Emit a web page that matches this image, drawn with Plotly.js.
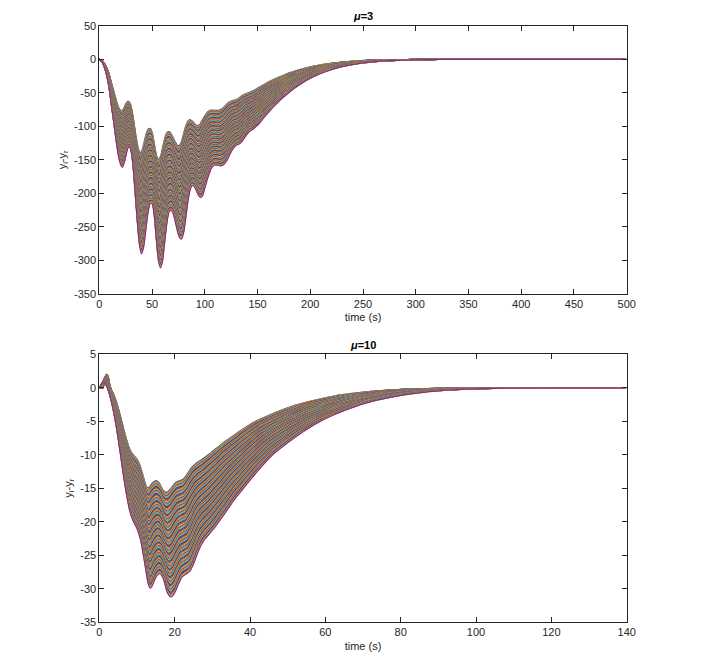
<!DOCTYPE html>
<html>
<head>
<meta charset="utf-8">
<script src="https://cdn.plot.ly/plotly-3.0.1.min.js"></script>
<style>html,body{margin:0;padding:0;background:#fff;}#chart{width:708px;height:658px;}</style>
</head>
<body>
<div id="chart"></div>
<script>
// ---- Data ----
// mu = 3 : the last (deepest) error curve y_i - y_r, time in s
const topTime = [0, 3, 6, 9, 12, 15, 18, 20, 22, 24, 26, 28, 30, 32, 34, 36, 38, 40, 42, 44, 46, 48, 50, 52, 54, 56, 58, 60, 62, 64, 66, 68, 70, 72, 74, 76, 78, 80, 82, 84, 86, 88, 90, 92, 94, 96, 98, 100, 103, 106, 109, 112, 115, 118, 121, 124, 127, 130, 133, 136, 139, 142, 145, 148, 152, 156, 160, 165, 170, 175, 181, 188, 197, 207, 219, 230, 238, 250, 262, 275, 290, 310, 335, 365, 400, 450, 500];
const topValue = [0, -5, -18, -40, -75, -110, -143, -156, -161, -152, -138, -130, -136, -160, -200, -242, -276, -290, -280, -255, -230, -216, -215, -232, -268, -300, -311, -300, -272, -245, -228, -225, -230, -242, -256, -266, -268, -258, -236, -212, -195, -188, -190, -196, -203, -206, -203, -192, -176, -163, -158, -158, -159, -157, -151, -141, -133, -128, -126, -121, -114, -108, -105, -101, -95, -87, -80, -71, -63, -56, -48, -40, -31, -23, -16, -11, -8.5, -5.5, -3.5, -2.2, -1.2, -0.5, -0.2, -0.05, 0, 0, 0];

// mu = 10 : the last (deepest) error curve
const botTime = [0, 0.5, 1, 1.5, 2, 2.5, 3, 3.5, 4, 4.5, 5, 5.5, 6, 6.5, 7, 7.5, 8, 8.5, 9, 10, 11, 12, 13, 13.5, 14, 15, 16, 17, 18, 19, 20, 21, 22, 23, 24, 25, 26, 27, 28, 30, 32, 34, 36, 38, 40, 43, 46, 50, 54, 58, 62, 66, 70, 75, 80, 85, 90, 95, 100, 110, 120, 130, 140];
const botValue = [0, 0.5, 0.8, 0.7, 0.2, -0.6, -1.6, -2.8, -4.2, -5.8, -7.6, -9.5, -11.5, -13.4, -15.2, -16.8, -18.2, -19.2, -19.9, -21.0, -22.8, -26.0, -29.3, -29.9, -29.6, -28.3, -27.7, -28.5, -30.5, -31.2, -30.6, -29.3, -28.2, -27.8, -27.4, -26.3, -24.8, -23.5, -22.6, -21.3, -19.8, -18.2, -16.6, -15.2, -13.8, -11.8, -10.0, -8.2, -6.6, -5.2, -4.1, -3.2, -2.4, -1.7, -1.15, -0.75, -0.45, -0.28, -0.17, -0.06, -0.02, 0, 0];

// family of followers: first follower relative to the last one
const seriesCount = 95;
const topFirst = {gain: 0.48, bumpGain: 1.0, stretch: 0.97, delay: 0};
const botFirst = {gain: 0.50, bumpGain: 2.5, stretch: 0.88, delay: 1.0};

const topXTicks = [0, 50, 100, 150, 200, 250, 300, 350, 400, 450, 500];
const topYTicks = [-350, -300, -250, -200, -150, -100, -50, 0, 50];
const botXTicks = [0, 20, 40, 60, 80, 100, 120, 140];
const botYTicks = [-35, -30, -25, -20, -15, -10, -5, 0, 5];

const colors = ['#0072BD', '#D95319', '#EDB120', '#7E2F8E', '#77AC30', '#4DBEEE', '#A2142F'];

// ---- Build traces ----
const traces = [];
function addFamily(time, value, first, xa, ya) {
  for (let k = 0; k < seriesCount; k++) {
    const w = k / (seriesCount - 1);
    const g = first.gain + (1 - first.gain) * w;
    const gb = first.bumpGain + (1 - first.bumpGain) * w;
    const s = first.stretch + (1 - first.stretch) * w;
    const d = first.delay * (1 - w);
    const x = [0], y = [0];
    for (let i = 0; i < time.length; i++) {
      x.push(d + time[i] * s);
      y.push(value[i] > 0 ? value[i] * gb : value[i] * g);
    }
    traces.push({
      type: 'scatter', mode: 'lines', x: x, y: y,
      xaxis: xa, yaxis: ya,
      line: {color: colors[k % colors.length], width: 1.25, shape: 'spline', smoothing: 0.6},
      showlegend: false, hoverinfo: 'skip'
    });
  }
}
addFamily(topTime, topValue, topFirst, 'x', 'y');
addFamily(botTime, botValue, botFirst, 'x2', 'y2');

const fam = 'Liberation Sans, Arial, sans-serif';
const axisFont = {family: fam, size: 11, color: '#262626'};
function axis(vals, extra) {
  return Object.assign({
    showline: true, linecolor: '#262626', linewidth: 1, mirror: 'ticks',
    ticks: 'inside', ticklen: 5, tickcolor: '#262626', tickwidth: 1,
    showgrid: false, zeroline: false, tickfont: axisFont, fixedrange: true,
    tickmode: 'array', tickvals: vals, ticktext: vals.map(v => String(v))
  }, extra);
}

const layout = {
  width: 708, height: 658, autosize: false,
  margin: {l: 0, r: 0, t: 0, b: 0},
  paper_bgcolor: '#ffffff', plot_bgcolor: '#ffffff',
  font: axisFont,
  xaxis: axis(topXTicks, {domain: [0.1403, 0.8852], anchor: 'y', range: [0, 500],
    title: {text: 'time (s)', font: axisFont, standoff: 4}}),
  yaxis: axis(topYTicks, {domain: [0.5532, 0.9609], anchor: 'x', range: [-350, 50],
    title: {text: 'y<sub>i</sub>-y<sub>r</sub>', font: axisFont, standoff: 5}}),
  xaxis2: axis(botXTicks, {domain: [0.1403, 0.8852], anchor: 'y2', range: [0, 140],
    title: {text: 'time (s)', font: axisFont, standoff: 4}}),
  yaxis2: axis(botYTicks, {domain: [0.0543, 0.4616], anchor: 'x2', range: [-35, 5],
    title: {text: 'y<sub>i</sub>-y<sub>r</sub>', font: axisFont, standoff: 5}}),
  annotations: [
    {text: '<b><i>μ</i>=3</b>', xref: 'paper', yref: 'paper', x: 0.5128, y: 0.9757, showarrow: false,
      font: {family: fam, size: 11, color: '#000'}, xanchor: 'center', yanchor: 'middle'},
    {text: '<b><i>μ</i>=10</b>', xref: 'paper', yref: 'paper', x: 0.5128, y: 0.4757, showarrow: false,
      font: {family: fam, size: 11, color: '#000'}, xanchor: 'center', yanchor: 'middle'}
  ]
};

Plotly.newPlot('chart', traces, layout, {staticPlot: true, displayModeBar: false});
</script>
</body>
</html>
